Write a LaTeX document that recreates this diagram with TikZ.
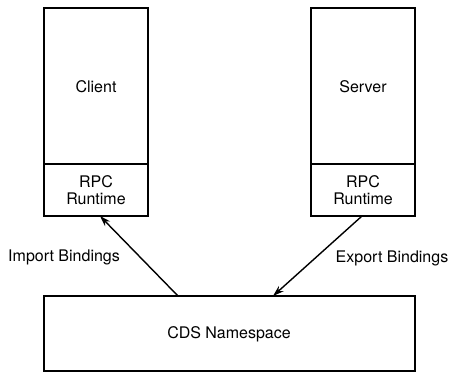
\documentclass[tikz,border=0pt]{standalone}
\usepackage{fontspec}
\setmainfont{TeX Gyre Heros}
\usetikzlibrary{arrows.meta}
\begin{document}
\begin{tikzpicture}[x=1pt,y=-1pt,
  box/.style={draw,line width=1.6pt},
  lbl/.style={font=\fontsize{16}{17.5}\selectfont,align=center,inner sep=0pt},
  link/.style={line width=1.4pt,-{Stealth[length=11pt,width=7pt]}}]
  \useasboundingbox (0,0) rectangle (449,373);
  % client stack
  \draw[box] (44,8) rectangle (148,216);
  \draw[box] (44,164) -- (148,164);
  \node[lbl] (client) at (96,87) {Client};
  \node[lbl] (crpc) at (96,190) {RPC\\[-1pt]Runtime};
  \coordinate (cbot) at (100,216);
  % server stack
  \draw[box] (311,8) rectangle (415,216);
  \draw[box] (311,164) -- (415,164);
  \node[lbl] (server) at (363,87) {Server};
  \node[lbl] (srpc) at (363,190) {RPC\\[-1pt]Runtime};
  \coordinate (sbot) at (362,216);
  % namespace
  \draw[box] (44,296) rectangle (415,371);
  \node[lbl] (cds) at (229,334) {CDS Namespace};
  \coordinate (ctop) at (178,296);
  \coordinate (stop) at (273,296);
  % bindings
  \draw[link] (ctop) -- (cbot);
  \draw[link] (sbot) -- (stop);
  \node[lbl] (imp) at (64,257) {Import Bindings};
  \node[lbl] (exp) at (392,258) {Export Bindings};
\end{tikzpicture}
\end{document}
